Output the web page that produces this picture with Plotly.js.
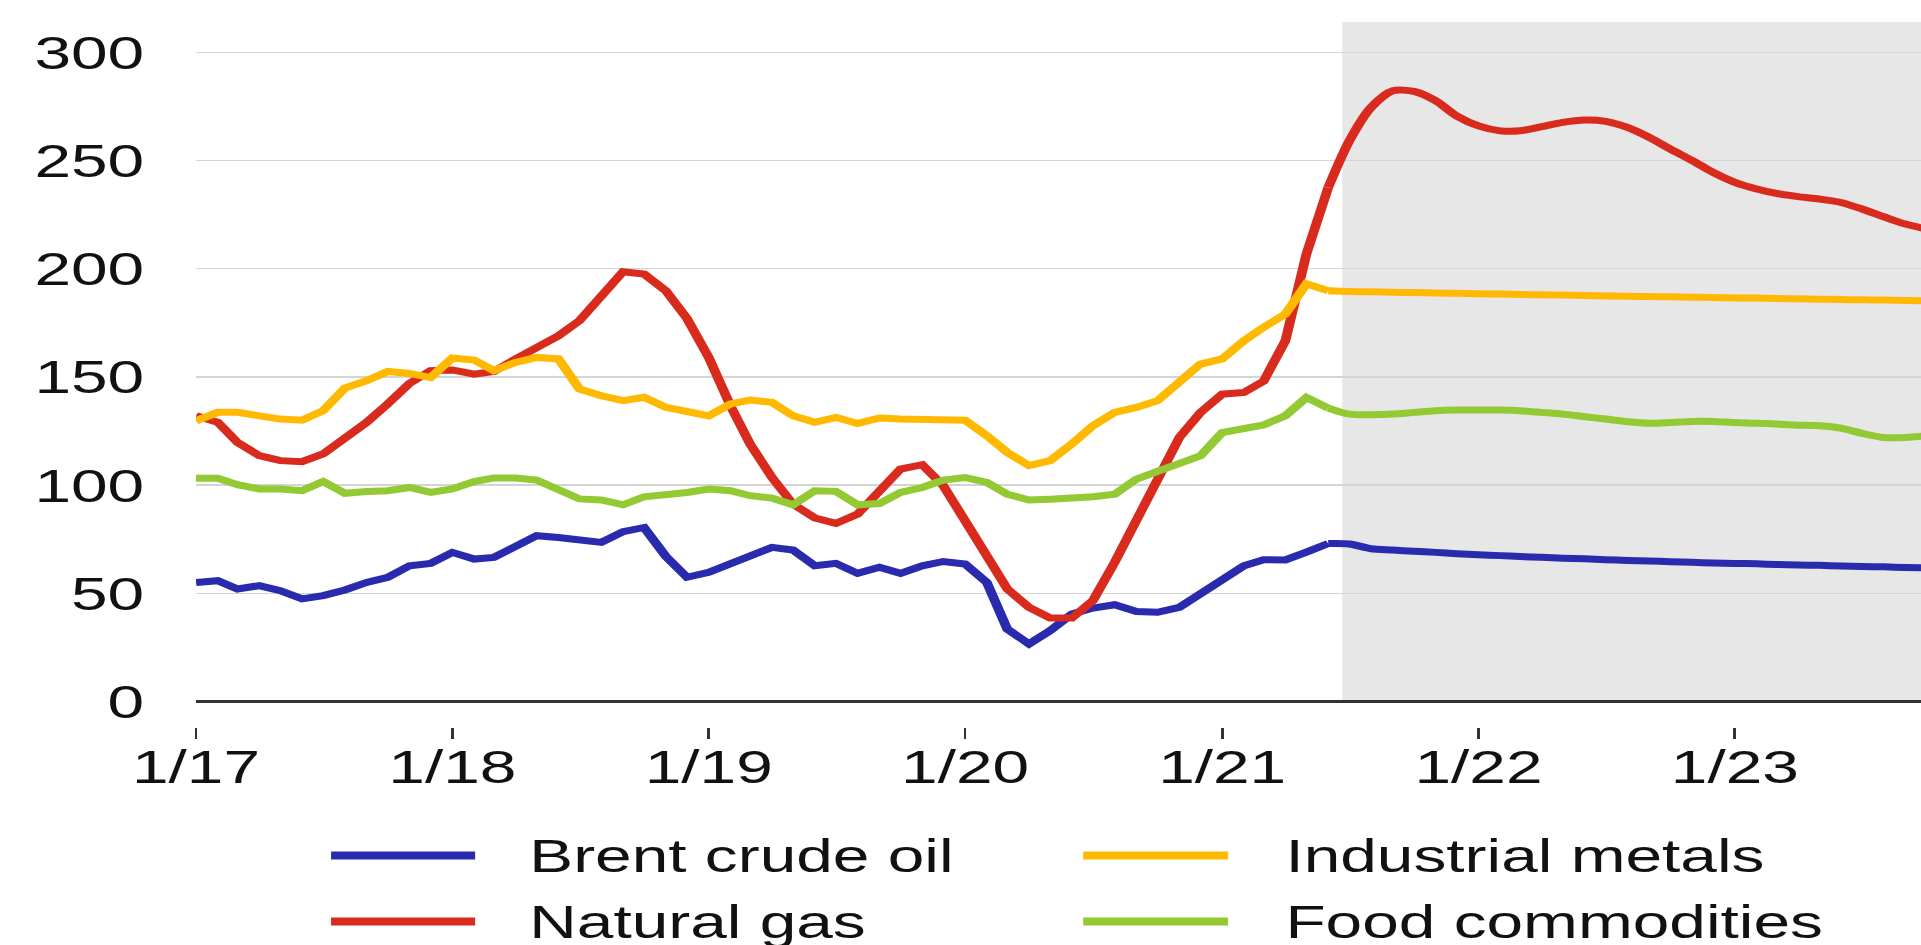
<!DOCTYPE html>
<html>
<head>
<meta charset="utf-8">
<script src="https://cdn.plot.ly/plotly-3.0.1.min.js"></script>
<style>
  html, body { margin: 0; padding: 0; background: #fff; }
  #wrap { width: 1921px; height: 945px; overflow: hidden; }
  /* the source picture is stretched sideways, so draw narrower and widen it */
  #chart { width: 1372px; height: 945px; transform: scaleX(1.40015); transform-origin: 0 0; }
</style>
</head>
<body>
<div id="wrap"><div id="chart"></div></div>
<script>
const months = [
    "2017-01","2017-02","2017-03","2017-04","2017-05","2017-06","2017-07","2017-08","2017-09","2017-10","2017-11","2017-12",
    "2018-01","2018-02","2018-03","2018-04","2018-05","2018-06","2018-07","2018-08","2018-09","2018-10","2018-11","2018-12",
    "2019-01","2019-02","2019-03","2019-04","2019-05","2019-06","2019-07","2019-08","2019-09","2019-10","2019-11","2019-12",
    "2020-01","2020-02","2020-03","2020-04","2020-05","2020-06","2020-07","2020-08","2020-09","2020-10","2020-11","2020-12",
    "2021-01","2021-02","2021-03","2021-04","2021-05","2021-06","2021-07","2021-08","2021-09","2021-10","2021-11","2021-12",
    "2022-01","2022-02","2022-03","2022-04","2022-05","2022-06","2022-07","2022-08","2022-09","2022-10","2022-11","2022-12",
    "2023-01","2023-02","2023-03","2023-04","2023-05","2023-06","2023-07","2023-08","2023-09","2023-10"
];
const lastActual = 53; // index of 2021-06, the forecast path runs from here

// Brent crude oil, USD per barrel (futures path from 7/21)
const brent = [
    55.0, 55.8, 52.0, 53.5, 51.2, 47.4, 48.9, 51.5, 55.0, 57.4, 62.7, 63.8,
    68.9, 65.8, 66.6, 71.2, 76.6, 75.8, 74.6, 73.5, 78.5, 80.4, 67.0, 57.4,
    59.7, 63.8, 66.6, 71.2, 70.0, 62.7, 63.8, 59.2, 62.0, 59.2, 62.7, 64.7,
    63.5, 55.0, 33.5, 26.6, 32.7, 40.4, 43.2, 44.7, 41.6, 41.2, 43.5, 49.7,
    55.8, 62.7, 65.5, 65.4, 69.0, 73.0, 72.8, 70.6, 70.0, 69.4, 68.9, 68.3,
    67.8, 67.4, 67.0, 66.6, 66.2, 65.9, 65.5, 65.2, 64.9, 64.6, 64.3, 64.0,
    63.8, 63.6, 63.3, 63.1, 62.9, 62.6, 62.4, 62.2, 61.9, 61.7
];

const metals = [
    129.7, 133.6, 133.6, 132.0, 130.5, 130.0, 134.4, 144.8, 148.2, 152.5, 151.6, 149.7,
    158.7, 157.8, 152.9, 156.7, 159.0, 158.3, 144.4, 141.3, 139.0, 140.6, 135.9, 134.0,
    132.0, 137.5, 139.3, 138.2, 132.0, 129.0, 131.3, 128.5, 131.0, 130.5, 130.5, 130.5,
    130.0, 122.8, 115.1, 109.0, 111.3, 119.0, 127.4, 133.6, 135.9, 139.0, 147.0, 155.9,
    158.3, 166.7, 172.9, 179.0, 193.0, 189.8, 189.5, 189.3, 189.1, 189.0, 188.8, 188.6,
    188.4, 188.3, 188.1, 187.9, 187.8, 187.6, 187.4, 187.3, 187.1, 187.0, 186.8, 186.7,
    186.5, 186.4, 186.2, 186.1, 185.9, 185.8, 185.6, 185.5, 185.3, 185.2
];

const gas = [
    132.0, 129.0, 119.7, 113.6, 111.3, 110.8, 114.4, 121.3, 129.0, 137.5, 147.0, 152.9,
    153.2, 151.3, 152.5, 158.3, 163.6, 169.0, 176.0, 187.5, 198.6, 197.5, 189.8, 177.0,
    159.0, 136.6, 118.9, 103.5, 91.2, 84.8, 82.3, 86.6, 97.4, 107.4, 109.4, 99.7,
    83.5, 66.6, 52.0, 43.5, 38.6, 38.6, 46.6, 64.3, 84.3, 104.3, 122.0, 133.5,
    142.0, 142.8, 148.0, 166.7, 206.8, 237.5, 259.0, 274.5, 282.2, 281.9, 277.6, 270.6,
    266.0, 263.7, 263.7, 265.6, 267.6, 268.7, 268.1, 265.3, 260.7, 255.3, 250.0, 244.5,
    239.9, 236.8, 234.8, 233.3, 232.2, 230.6, 227.6, 224.0, 220.6, 218.3
];

const food = [
    103.1, 103.1, 100.2, 98.2, 98.2, 97.4, 101.7, 96.2, 97.0, 97.4, 98.9, 96.6,
    98.2, 101.6, 103.3, 103.3, 102.3, 97.4, 93.6, 93.1, 90.9, 94.6, 95.4, 96.6,
    98.2, 97.4, 95.1, 94.0, 90.9, 97.4, 97.1, 90.9, 91.5, 96.6, 98.9, 102.3,
    103.5, 101.2, 95.8, 93.1, 93.5, 93.8, 94.6, 95.8, 102.8, 106.3, 110.0, 113.5,
    124.3, 126.5, 127.8, 132.0, 140.5, 135.6, 132.8, 132.5, 132.8, 133.6, 134.4, 134.7,
    134.7, 134.7, 134.4, 133.6, 132.8, 131.6, 130.5, 129.3, 128.6, 128.9, 129.4, 129.4,
    128.9, 128.6, 128.2, 127.7, 127.4, 126.3, 123.9, 122.0, 122.0, 122.8
];

const seriesNames = ["Brent crude oil", "Natural gas", "Industrial metals", "Food commodities"];
const seriesColors = ["#2a2aae", "#d82b1e", "#ffb900", "#93c932"];
const forecastStart = "2021-06-21";

const FONT = "Liberation Sans, Arial, Helvetica, sans-serif";

// actual months drawn straight, the forecast part smoothed
const traces = [];
[brent, gas, metals, food].forEach((vals, i) => {
    traces.push({
        x: months.slice(0, lastActual + 1),
        y: vals.slice(0, lastActual + 1),
        type: "scatter", mode: "lines", name: seriesNames[i],
        line: { color: seriesColors[i], width: 7 },
        showlegend: false
    });
    traces.push({
        x: months.slice(lastActual),
        y: vals.slice(lastActual),
        type: "scatter", mode: "lines", name: seriesNames[i],
        line: { color: seriesColors[i], width: 7, shape: "spline", smoothing: 0.8 },
        showlegend: false
    });
});

// hand-drawn legend: two columns, long line keys
const legendCols = [[0.0783, 0.1618, 0.1919], [0.5143, 0.5983, 0.6296]];
const legendRows = [-0.1823, -0.2759];
const legendOrder = [[0, 0], [1, 0], [0, 1], [1, 1]]; // [row, col] for each series

const shapes = [{
    type: "rect", xref: "x", yref: "y",
    x0: forecastStart, x1: "2023-12-31", y0: 0, y1: 314,
    fillcolor: "#e7e7e7", line: { width: 0 }, layer: "below"
}];
const annotations = [];
legendOrder.forEach(([r, c], i) => {
    const col = legendCols[c];
    shapes.push({
        type: "line", xref: "paper", yref: "paper",
        x0: col[0], x1: col[1], y0: legendRows[r], y1: legendRows[r],
        line: { color: seriesColors[i], width: 8 }
    });
    annotations.push({
        xref: "paper", yref: "paper", x: col[2], y: legendRows[r],
        xanchor: "left", yanchor: "middle", showarrow: false,
        text: seriesNames[i], font: { family: FONT, size: 47, color: "#111" }
    });
});

const layout = {
    width: 1372,
    height: 945,
    margin: { l: 140, r: 0, t: 22, b: 218 },
    paper_bgcolor: "#fff",
    plot_bgcolor: "#fff",
    font: { family: FONT, size: 47, color: "#111" },
    showlegend: false,
    xaxis: {
        type: "date",
        range: ["2017-01-01", "2023-09-23"],
        tick0: "2017-01-01",
        dtick: "M12",
        tickformat: "%-m/%y",
        ticks: "outside",
        ticklen: 11,
        tickwidth: 2,
        tickcolor: "#333",
        ticklabelstandoff: -12,
        showgrid: false,
        zeroline: false,
        showline: false,
        tickfont: { family: FONT, size: 47, color: "#111" }
    },
    yaxis: {
        range: [-11.8, 314],
        tick0: 0,
        dtick: 50,
        showgrid: true,
        gridcolor: "#d4d4d4",
        gridwidth: 1.5,
        zeroline: true,
        zerolinecolor: "#333",
        zerolinewidth: 2.5,
        ticks: "",
        ticklabelstandoff: 36,
        showline: false,
        tickfont: { family: FONT, size: 47, color: "#111" }
    },
    shapes: shapes,
    annotations: annotations
};

Plotly.newPlot("chart", traces, layout, { displayModeBar: false, staticPlot: true });
</script>
</body>
</html>
